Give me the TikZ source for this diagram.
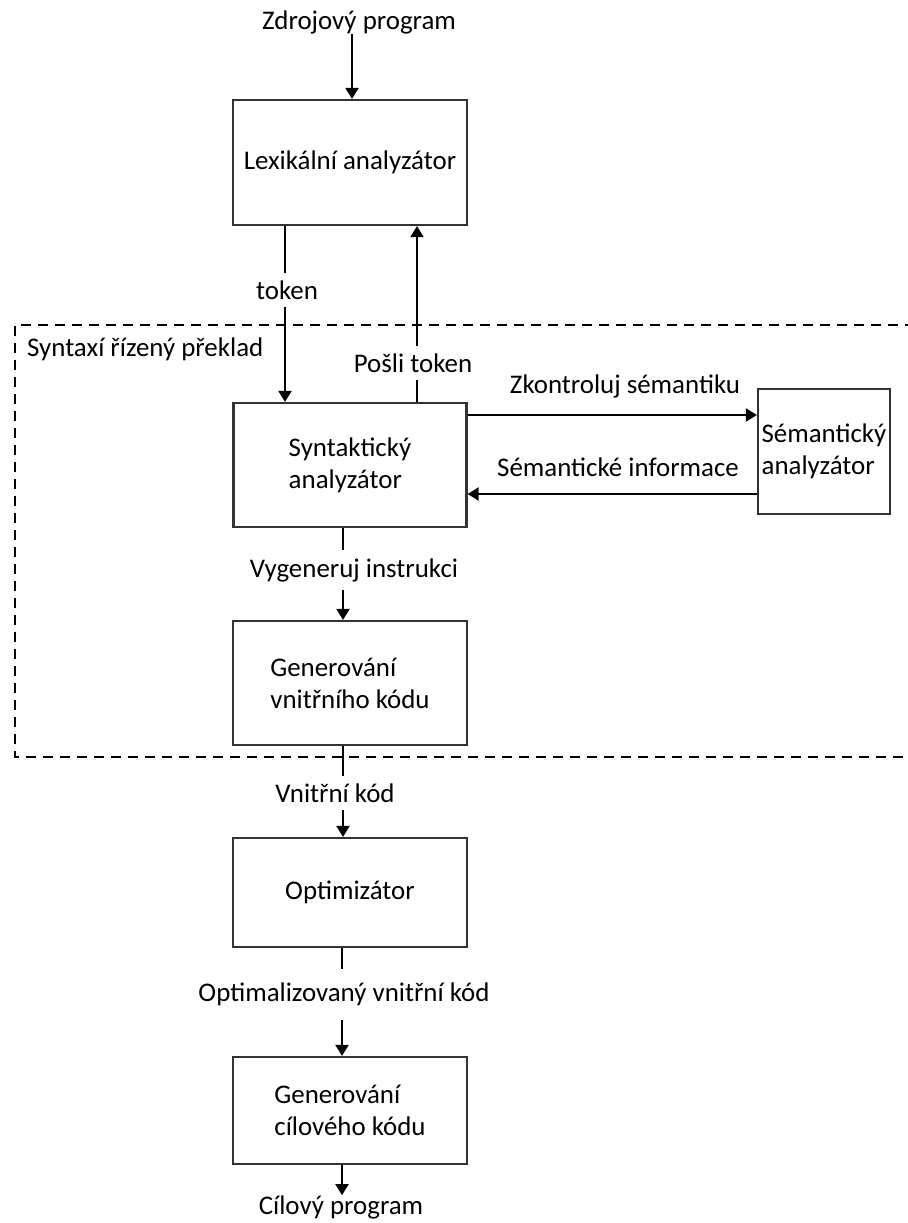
\documentclass[tikz,border=0pt]{standalone}
\usepackage{fontspec}
\setmainfont{Carlito}
\usetikzlibrary{arrows.meta,calc}

\begin{document}
\begin{tikzpicture}[x=1bp,y=-1bp,
  font=\fontsize{27}{32}\selectfont,
  block/.style={draw=black!80, line width=2.2bp, rectangle, inner sep=0pt, align=left},
  flow/.style={line width=2bp, -{Triangle[width=13bp,length=11bp]}},
  lbl/.style={inner sep=0pt, align=center},
  gap/.style={fill=white, inner xsep=2bp, inner ysep=8bp},
  frame/.style={line width=2bp, dash pattern=on 10bp off 7bp}]

\useasboundingbox (0,0) rectangle (908,1223);

% processing blocks
\node[block, minimum width=234bp, minimum height=125bp] (lex) at (350,162.5) {Lexikální analyzátor};
\node[block, minimum width=233bp, minimum height=124bp] (syn) at (350,465) {Syntaktický\\analyzátor};
\node[block, minimum width=132bp, minimum height=125bp] (sem) at (824,451.5) {Sémantický\\analyzátor};
\node[block, minimum width=234bp, minimum height=124bp] (gvk) at (350,683) {Generování\\vnitřního kódu};
\node[block, minimum width=234bp, minimum height=109bp] (opt) at (350,892.5) {Optimizátor};
\node[block, minimum width=234bp, minimum height=107bp] (gck) at (350,1110.5) {Generování\\cílového kódu};

% program input and output
\node[lbl] (src) at (359,22) {Zdrojový program};
\node[lbl] (dst) at (341,1207) {Cílový program};

% syntax-directed translation region (open on the right)
\draw[frame] (915,325) -- (15,325) -- (15,757) -- (915,757);
\node[lbl, anchor=west] (sdt) at (27,349) {Syntaxí řízený překlad};

% input
\coordinate (in) at ([xshift=2bp]lex.north);
\draw[flow] (in |- src.south) -- (in);

% token exchange between lexer and parser
\coordinate (tk1) at ([xshift=-65bp]lex.south);
\coordinate (tk2) at ([xshift=67bp]lex.south);
\draw[flow] (tk1) -- (tk1 |- syn.north);
\node[lbl, gap] (ltok) at (287,290) {token};
\draw[flow] (tk2 |- syn.north) -- (tk2);
\node[lbl, gap] (lpos) at (413,363) {Pošli token};

% semantic checks
\coordinate (zk) at ([yshift=50bp]syn.east);
\coordinate (si) at ([yshift=-29bp]syn.east);
\draw[flow] (zk) -- (zk -| sem.west);
\node[lbl] (lzk) at (625,386) {Zkontroluj sémantiku};
\draw[flow] (si -| sem.west) -- (si);
\node[lbl] (lsi) at (618,467) {Sémantické informace};

% code generation chain
\coordinate (c1) at ([xshift=-7bp]syn.south);
\draw[flow] (c1) -- (c1 |- gvk.north);
\node[lbl, gap] (lvyg) at (354,570) {Vygeneruj instrukci};

\coordinate (c2) at ([xshift=-7bp]gvk.south);
\draw[flow] (c2) -- (c2 |- opt.north);
\node[lbl, gap] (lvk) at (335,793) {Vnitřní kód};

\coordinate (c3) at ([xshift=-8bp]opt.south);
\draw[flow] (c3) -- (c3 |- gck.north);
\node[lbl, fill=white, inner xsep=2bp, inner ysep=14bp] (lovk) at (344,994) {Optimalizovaný vnitřní kód};

\coordinate (c4) at ([xshift=-8bp]gck.south);
\draw[flow] (c4) -- (c4 |- dst.north);

\end{tikzpicture}
\end{document}
